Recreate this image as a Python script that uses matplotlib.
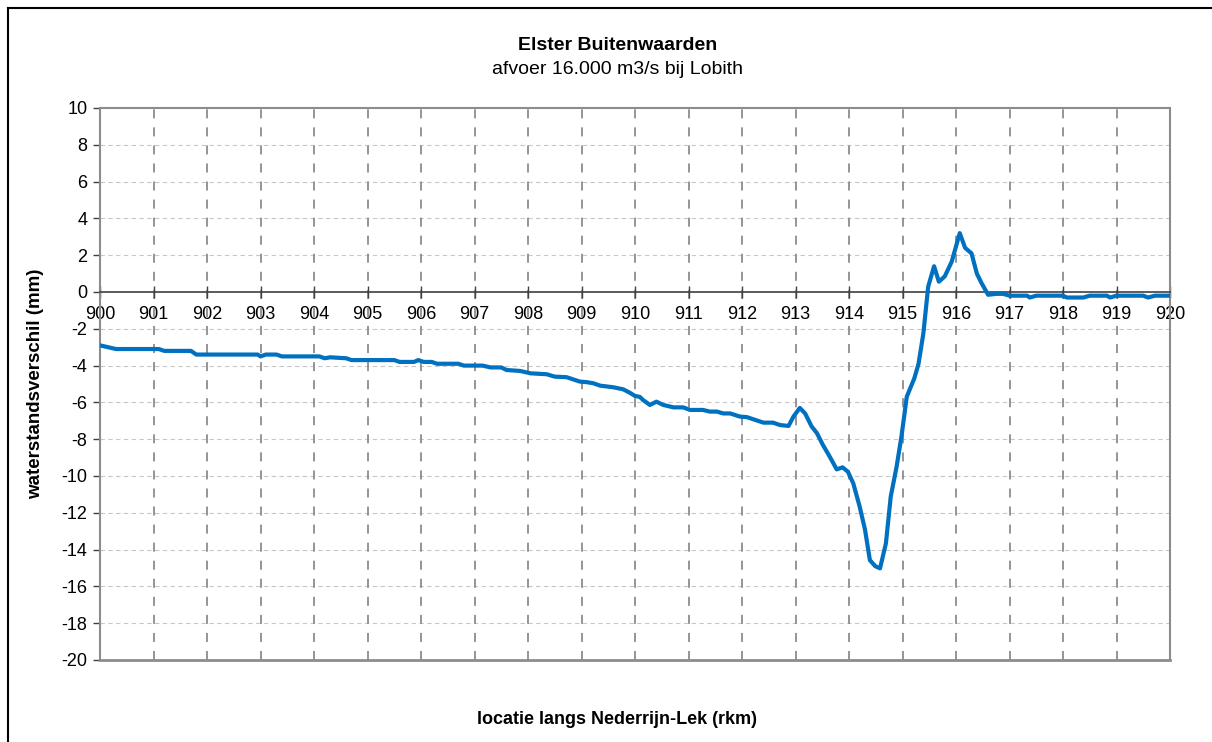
import matplotlib
matplotlib.use("Agg")
import matplotlib.pyplot as plt
from matplotlib.lines import Line2D

plt.rcParams['font.family'] = ['Liberation Sans', 'DejaVu Sans']
plt.rcParams['axes.unicode_minus'] = False

# rivierkilometer en waterstandsverschil (mm)
rkm = [900.0, 900.15, 900.3, 901.1, 901.2, 901.7, 901.8, 902.95, 903.0, 903.1,
       903.3, 903.4, 904.1, 904.2, 904.3, 904.6, 904.7, 905.5, 905.6, 905.87,
       905.95, 906.05, 906.2, 906.3, 906.7, 906.8, 907.15, 907.3, 907.5, 907.6,
       907.85, 908.05, 908.35, 908.5, 908.72, 908.97, 909.1, 909.22, 909.35, 909.6,
       909.78, 909.9, 910.0, 910.09, 910.15, 910.28, 910.4, 910.53, 910.72, 910.9,
       911.03, 911.27, 911.4, 911.53, 911.65, 911.78, 911.96, 912.09, 912.4, 912.58,
       912.71, 912.87, 912.96, 913.08, 913.18, 913.3, 913.4, 913.51, 913.64, 913.77,
       913.88, 913.98, 914.08, 914.2, 914.3, 914.39, 914.49, 914.58, 914.69, 914.78,
       914.89, 914.98, 915.08, 915.22, 915.3, 915.39, 915.48, 915.59, 915.68, 915.79,
       915.92, 916.07, 916.17, 916.29, 916.39, 916.48, 916.6, 916.76, 916.88, 917.0,
       917.33, 917.38, 917.5, 918.0, 918.07, 918.38, 918.5, 918.82, 918.88, 919.0,
       919.5, 919.59, 919.72, 920.0]
verschil = [-2.9, -3.0, -3.1, -3.1, -3.2, -3.2, -3.4, -3.4, -3.5, -3.4,
            -3.4, -3.5, -3.5, -3.6, -3.55, -3.6, -3.7, -3.7, -3.8, -3.8,
            -3.7, -3.8, -3.8, -3.9, -3.9, -4.0, -4.0, -4.1, -4.1, -4.24,
            -4.29, -4.42, -4.47, -4.6, -4.63, -4.87, -4.9, -4.96, -5.09, -5.18,
            -5.29, -5.47, -5.65, -5.7, -5.87, -6.14, -5.96, -6.14, -6.27, -6.27,
            -6.41, -6.41, -6.5, -6.5, -6.6, -6.6, -6.77, -6.8, -7.1, -7.1,
            -7.23, -7.28, -6.78, -6.3, -6.6, -7.3, -7.67, -8.3, -8.95, -9.64,
            -9.53, -9.77, -10.4, -11.67, -12.93, -14.57, -14.9, -15.02, -13.66, -11.12,
            -9.49, -7.86, -5.69, -4.7, -3.9, -2.25, 0.29, 1.4, 0.56, 0.85,
            1.65, 3.2, 2.4, 2.1, 1.0, 0.47, -0.15, -0.1, -0.1, -0.2,
            -0.2, -0.3, -0.2, -0.2, -0.3, -0.3, -0.2, -0.2, -0.3, -0.2,
            -0.2, -0.3, -0.2, -0.2]

xticks = list(range(900, 921))
yticks = list(range(-20, 11, 2))

W, H = 1212, 742
fig = plt.figure(figsize=(W / 100, H / 100), dpi=100)
ax = fig.add_axes([100 / W, (H - 660) / H, 1070 / W, 552 / H])

# rand om de figuur
fig.add_artist(Line2D([8 / W, 8 / W], [0, 1 - 8 / H], color='black', lw=1.5))
fig.add_artist(Line2D([8 / W, 1], [1 - 8 / H, 1 - 8 / H], color='black', lw=1.5))

ax.set_xlim(900, 920)
ax.set_ylim(-20, 10)

# rasterlijnen
for yv in yticks:
    if yv not in (-20, 0, 10):
        ax.axhline(yv, color='#c8c8c8', lw=0.8, ls=(0, (4, 3)), zorder=1)
for xv in xticks[1:-1]:
    ax.axvline(xv, color='#8c8c8c', lw=1.3, ls=(0, (5, 5)), zorder=1)

ax.plot(rkm, verschil, color='#0070C0', lw=3, zorder=3, solid_joinstyle='round')

for s in ['left', 'top', 'right']:
    ax.spines[s].set_color('#8c8c8c')
    ax.spines[s].set_linewidth(1.5)
ax.spines['bottom'].set_position(('data', 0))
ax.spines['bottom'].set_color('#404040')
ax.spines['bottom'].set_linewidth(1.2)
ax.axhline(-20, color='#8c8c8c', lw=2, zorder=2, clip_on=False)

ax.set_xticks(xticks)
ax.set_yticks(yticks)
ax.tick_params(axis='x', direction='inout', length=8, width=1, color='#404040',
               labelsize=13, pad=6)
ax.tick_params(axis='y', direction='out', length=5, width=1, color='#404040',
               labelsize=13, pad=4)

fig.text(618 / W, 1 - 46 / H, 'Elster Buitenwaarden', ha='center', va='center',
         fontsize=14, fontweight='bold')
fig.text(618 / W, 1 - 70 / H, 'afvoer 16.000 m3/s bij Lobith', ha='center',
         va='center', fontsize=14)
fig.text(36 / W, 1 - 384 / H, 'waterstandsverschil (mm)', rotation=90,
         ha='center', va='center', fontsize=13.5, fontweight='bold')
fig.text(617 / W, 1 - 720 / H, 'locatie langs Nederrijn-Lek (rkm)', ha='center',
         va='center', fontsize=13, fontweight='bold')

fig.savefig('out.png', dpi=100)
